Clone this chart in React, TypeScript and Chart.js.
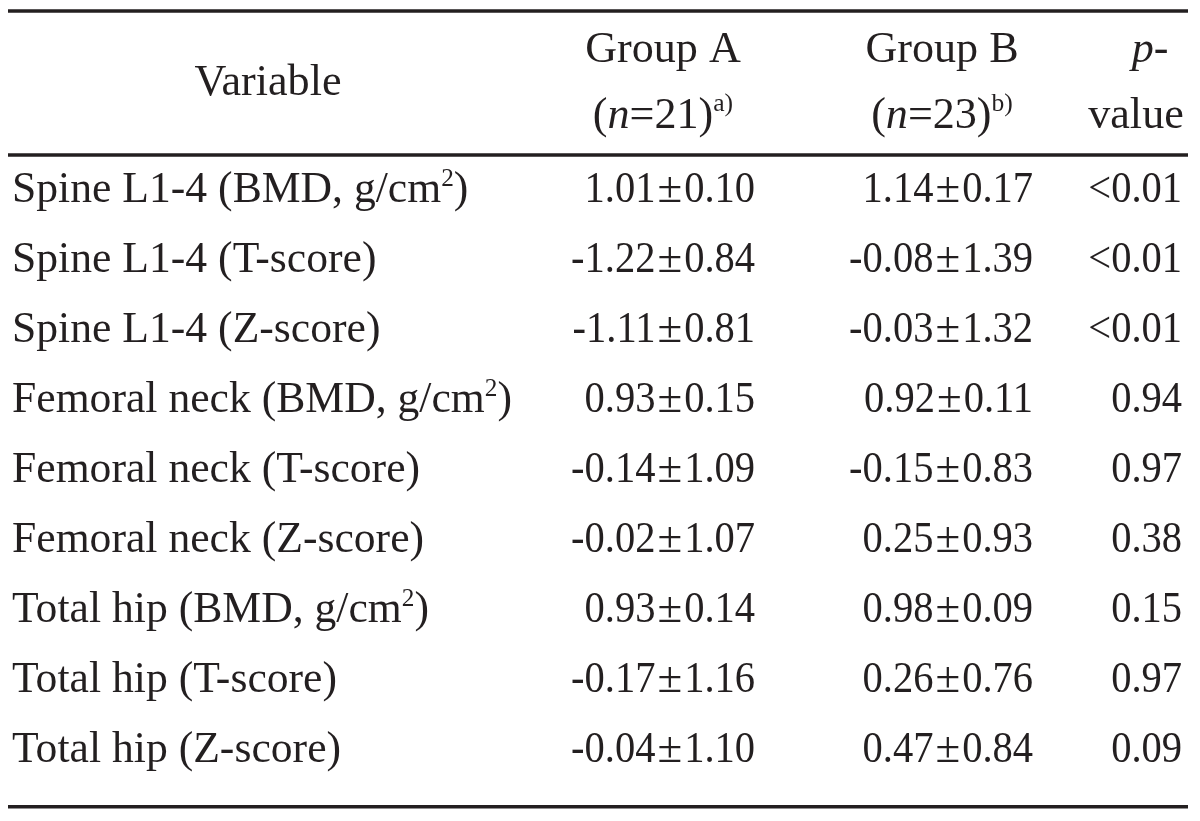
import React, { useEffect, useRef } from "react";
import { Chart, registerables } from "chart.js";

Chart.register(...registerables);

// ---- data ----
const variables = [
  "Spine L1-4 (BMD, g/cm²)",
  "Spine L1-4 (T-score)",
  "Spine L1-4 (Z-score)",
  "Femoral neck (BMD, g/cm²)",
  "Femoral neck (T-score)",
  "Femoral neck (Z-score)",
  "Total hip (BMD, g/cm²)",
  "Total hip (T-score)",
  "Total hip (Z-score)",
];
const groupAMean = [1.01, -1.22, -1.11, 0.93, -0.14, -0.02, 0.93, -0.17, -0.04];
const groupASD = [0.1, 0.84, 0.81, 0.15, 1.09, 1.07, 0.14, 1.16, 1.1];
const groupBMean = [1.14, -0.08, -0.03, 0.92, -0.15, 0.25, 0.98, 0.26, 0.47];
const groupBSD = [0.17, 1.39, 1.32, 0.11, 0.83, 0.93, 0.09, 0.76, 0.84];
const pValues = ["<0.01", "<0.01", "<0.01", "0.94", "0.97", "0.38", "0.15", "0.97", "0.09"];
const groupAN = 21;
const groupBN = 23;

// ---- layout (styles, not data) ----
const W = 1200;
const H = 821;
const FONT = "'Liberation Serif', 'DejaVu Serif', serif";
const SIZE = 45;
const TEXT_SX = 0.97;
const HEAD_SX = 0.98;
const NUM_SX = 0.9;
const INK = "#231f20";
const ROW_PX0 = 188;
const ROW_STEP = 70;
const Y_MIN = (0 - ROW_PX0) / ROW_STEP;
const Y_MAX = (H - ROW_PX0) / ROW_STEP;
const COL = { varLeft: 12, aRight: 755, bRight: 1033, pRight: 1182, aCenter: 663, bCenter: 942, pCenter: 1136, pDashCenter: 1150, varCenter: 268 };
const HEAD1 = -2.0;
const HEAD2 = -1.07;
const HEADV = -1.54;
const RULE_TOP = -2.53;
const RULE_MID = -0.47;
const RULE_BOT = 8.84;

type Run = { t: string; italic?: boolean; sup?: boolean; sx?: number; pad?: number };

function parseVar(s: string): Run[] {
  const parts = s.split("²");
  const runs: Run[] = [];
  parts.forEach((p, i) => {
    if (p) runs.push({ t: p, sx: TEXT_SX });
    if (i < parts.length - 1) runs.push({ t: "2", sup: true, sx: TEXT_SX });
  });
  return runs;
}

function fmt(m: number, sd: number): Run[] {
  return [
    { t: m.toFixed(2), sx: NUM_SX },
    { t: "±", sx: 1.0, pad: 2 },
    { t: sd.toFixed(2), sx: NUM_SX },
  ];
}

function fontFor(r: Run) {
  const sz = r.sup ? SIZE * 0.58 : SIZE;
  return `${r.italic ? "italic " : ""}${sz}px ${FONT}`;
}

function drawRuns(ctx: CanvasRenderingContext2D, runs: Run[], x: number, yc: number, align: "left" | "right" | "center") {
  let total = 0;
  const widths = runs.map((r) => {
    ctx.font = fontFor(r);
    const w = ctx.measureText(r.t).width * (r.sx ?? HEAD_SX) + 2 * (r.pad ?? 0);
    total += w;
    return w;
  });
  let cx = align === "left" ? x : align === "right" ? x - total : x - total / 2;
  const base = yc + SIZE * 0.32;
  runs.forEach((r, i) => {
    ctx.save();
    ctx.font = fontFor(r);
    ctx.fillStyle = INK;
    ctx.textAlign = "left";
    ctx.textBaseline = "alphabetic";
    ctx.translate(cx + (r.pad ?? 0), r.sup ? base - SIZE * 0.36 : base);
    ctx.scale(r.sx ?? HEAD_SX, 1);
    ctx.fillText(r.t, 0, 0);
    ctx.restore();
    cx += widths[i];
  });
}

const tablePlugin = {
  id: "tableText",
  afterDatasetsDraw(chart: any) {
    const ctx: CanvasRenderingContext2D = chart.ctx;
    const xs = chart.scales.x;
    const ys = chart.scales.y;
    const X = (v: number) => xs.getPixelForValue(v);
    const Y = (v: number) => ys.getPixelForValue(v);
    // header
    drawRuns(ctx, [{ t: "Variable" }], X(COL.varCenter), Y(HEADV), "center");
    drawRuns(ctx, [{ t: "Group A" }], X(COL.aCenter), Y(HEAD1), "center");
    drawRuns(ctx, [{ t: "(" }, { t: "n", italic: true }, { t: `=${groupAN})` }, { t: "a)", sup: true }], X(COL.aCenter), Y(HEAD2), "center");
    drawRuns(ctx, [{ t: "Group B" }], X(COL.bCenter), Y(HEAD1), "center");
    drawRuns(ctx, [{ t: "(" }, { t: "n", italic: true }, { t: `=${groupBN})` }, { t: "b)", sup: true }], X(COL.bCenter), Y(HEAD2), "center");
    drawRuns(ctx, [{ t: "p", italic: true }, { t: "-" }], X(COL.pDashCenter), Y(HEAD1), "center");
    drawRuns(ctx, [{ t: "value" }], X(COL.pCenter), Y(HEAD2), "center");
    // body
    variables.forEach((v, i) => {
      drawRuns(ctx, parseVar(v), X(COL.varLeft), Y(i), "left");
      drawRuns(ctx, fmt(groupAMean[i], groupASD[i]), X(COL.aRight), Y(i), "right");
      drawRuns(ctx, fmt(groupBMean[i], groupBSD[i]), X(COL.bRight), Y(i), "right");
      drawRuns(ctx, [{ t: pValues[i], sx: NUM_SX }], X(COL.pRight), Y(i), "right");
    });
  },
};

function rule(y: number, width: number) {
  return {
    type: "line" as const,
    data: [
      { x: 8, y },
      { x: 1188, y },
    ],
    borderColor: INK,
    borderWidth: width,
    pointRadius: 0,
    fill: false,
  };
}

export default function App() {
  const ref = useRef<HTMLCanvasElement | null>(null);
  useEffect(() => {
    document.body.style.margin = "0";
    const canvas = ref.current!;
    const chart = new Chart(canvas, {
      type: "line",
      data: {
        datasets: [rule(RULE_TOP, 3.5), rule(RULE_MID, 3.5), rule(RULE_BOT, 3.5)],
      },
      options: {
        animation: false,
        responsive: false,
        maintainAspectRatio: false,
        layout: { padding: 0 },
        plugins: { legend: { display: false }, tooltip: { enabled: false } },
        scales: {
          x: { type: "linear", min: 0, max: W, display: false },
          y: { type: "linear", min: Y_MIN, max: Y_MAX, reverse: true, display: false },
        },
      },
      plugins: [tablePlugin],
    });
    return () => chart.destroy();
  }, []);
  return (
    <div style={{ width: W, height: H, background: "#fff" }}>
      <canvas ref={ref} width={W} height={H} style={{ display: "block" }} />
    </div>
  );
}
